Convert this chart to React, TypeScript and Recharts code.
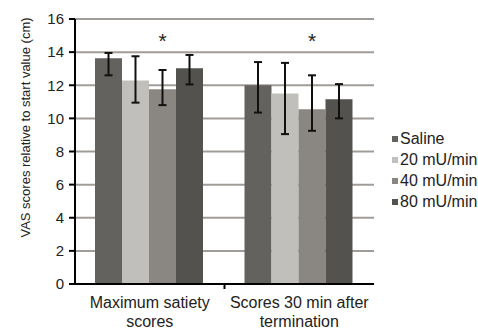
import { BarChart, Bar, XAxis, YAxis, CartesianGrid, ErrorBar, Legend, LabelList } from 'recharts'

const categories = ['Maximum satiety\nscores', 'Scores 30 min after\ntermination']
const seriesNames = ['Saline', '20 mU/min', '40 mU/min', '80 mU/min']
const colors = ['#64625f', '#c0bfbb', '#8a8782', '#53524e']

// bar means
const saline = [13.63, 12.0]
const mu20 = [12.28, 11.5]
const mu40 = [11.76, 10.55]
const mu80 = [13.02, 11.15]

// error bar ends (low / high)
const salineLo = [12.6, 10.35]
const salineHi = [13.95, 13.4]
const mu20Lo = [10.95, 9.05]
const mu20Hi = [13.75, 13.35]
const mu40Lo = [10.8, 9.25]
const mu40Hi = [12.92, 12.6]
const mu80Lo = [12.05, 10.0]
const mu80Hi = [13.83, 12.07]

// level where the significance star sits
const starLevel = [15, 15]
const yTicks = [0, 2, 4, 6, 8, 10, 12, 14, 16]

const FONT = '"Liberation Sans", Arial, sans-serif'
const TEXT = '#222'

const series = [
  { v: saline, lo: salineLo, hi: salineHi },
  { v: mu20, lo: mu20Lo, hi: mu20Hi },
  { v: mu40, lo: mu40Lo, hi: mu40Hi },
  { v: mu80, lo: mu80Lo, hi: mu80Hi },
]

const data = categories.map((name, i) => {
  const row: Record<string, any> = { name, star: starLevel[i] }
  series.forEach((s, k) => {
    row['s' + k] = s.v[i]
    row['e' + k] = [s.v[i] - s.lo[i], s.hi[i] - s.v[i]]
  })
  return row
})

function CategoryTick(props: any) {
  const { x, y, payload, index } = props
  const lines = String(payload.value).split('\n')
  const off = payload.offset ?? 0
  return (
    <g>
      {index === 0 && off > 0 && (
        <line x1={x + off} x2={x + off} y1={y} y2={y + 5} stroke="#000" strokeWidth={2} />
      )}
      <text x={x} y={y} textAnchor="middle" fill={TEXT} fontFamily={FONT} fontSize={16}>
        {lines.map((l, i) => (
          <tspan key={i} x={x} dy={i === 0 ? 24 : 19}>{l}</tspan>
        ))}
      </text>
    </g>
  )
}

function StarLabel(props: any) {
  const { x, y, width, height, value, index } = props
  if (!value) return null
  const yStar = y + height - (starLevel[index] * height) / value
  return (
    <text x={x + width / 2} y={yStar + 12} textAnchor="middle" fill={TEXT} fontFamily={FONT} fontSize={21}>
      *
    </text>
  )
}

function LegendBox() {
  return (
    <div style={{ fontFamily: FONT, fontSize: 16, color: TEXT }}>
      {seriesNames.map((n, k) => (
        <div key={n} style={{ display: 'flex', alignItems: 'center', height: 21, whiteSpace: 'nowrap' }}>
          <span style={{ width: 6, height: 6, background: colors[k], marginRight: 2, display: 'inline-block' }} />
          {n}
        </div>
      ))}
    </div>
  )
}

export default function App() {
  return (
    <div style={{ position: 'absolute', left: 0, top: 0, width: 478, height: 329, background: '#fff' }}>
      <BarChart
        width={478}
        height={329}
        data={data}
        margin={{ top: 19, right: 18, bottom: 5, left: 30 }}
        barCategoryGap={20}
        barGap={0}
      >
        <CartesianGrid vertical={false} stroke="#a09d99" strokeWidth={2} />
        <XAxis
          dataKey="name"
          height={40}
          axisLine={{ stroke: '#000', strokeWidth: 2 }}
          tickLine={false}
          tickSize={0}
          tickMargin={0}
          tick={<CategoryTick />}
          interval={0}
        />
        <YAxis
          width={45}
          domain={[0, 16]}
          ticks={yTicks}
          interval={0}
          axisLine={{ stroke: '#000', strokeWidth: 2 }}
          tickLine={{ stroke: '#000', strokeWidth: 2 }}
          tickSize={6}
          tickMargin={5}
          tick={{ fill: TEXT, fontFamily: FONT, fontSize: 15 }}
          label={{
            content: (p: any) => {
              const vb = p.viewBox || { x: 30, y: 19, width: 45, height: 265 }
              const cy = vb.y + vb.height / 2 - 24
              return (
                <text
                  transform={`translate(30, ${cy}) rotate(-90)`}
                  textAnchor="middle"
                  fill={TEXT}
                  fontFamily={FONT}
                  fontSize={13}
                >
                  VAS scores relative to start value (cm)
                </text>
              )
            },
          }}
        />
        <Legend
          layout="vertical"
          align="right"
          verticalAlign="middle"
          content={<LegendBox />}
          wrapperStyle={{ left: 392, top: 128, width: 86 }}
        />
        {seriesNames.map((n, k) => (
          <Bar key={n} dataKey={'s' + k} name={n} fill={colors[k]} isAnimationActive={false}>
            <ErrorBar dataKey={'e' + k} width={4} strokeWidth={2} stroke="#111" direction="y" />
            {k === 2 && <LabelList dataKey={'s' + k} content={<StarLabel />} />}
          </Bar>
        ))}
      </BarChart>
    </div>
  )
}
